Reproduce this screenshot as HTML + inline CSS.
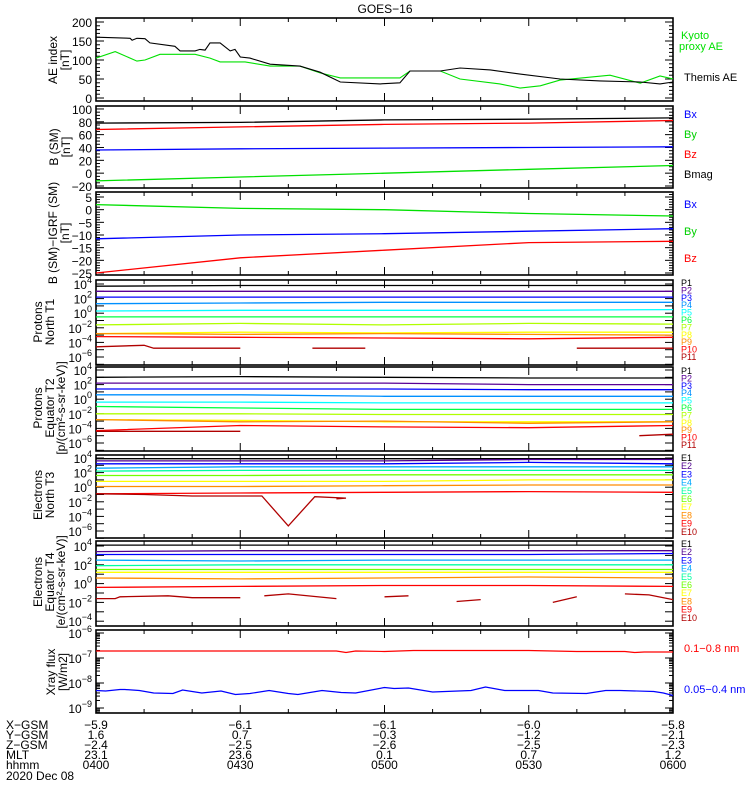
<!DOCTYPE html>
<html><head><meta charset="utf-8"><style>
body{margin:0;background:#fff;width:750px;height:800px;overflow:hidden}
svg{display:block;font-family:"Liberation Sans",sans-serif}
</style></head><body>
<svg id="chart" width="750" height="800" viewBox="0 0 750 800" xmlns="http://www.w3.org/2000/svg"></svg>
<script>
// ---------- DATA ----------
const aeBlackT=[0,7.1,7.5,8.5,10.2,11.2,16.4,17.5,20.6,21.6,22.7,23.7,25.8,27.9,28.9,30,32,36.2,42.4,46.6,50.8,59.1,63.2,65.3,71.6,75.7,82,88.2,96.5,104.8,113.2,117.3,120];
const aeBlackV=[160,157,152,157,156,145,136,124,124,128,126,145,145,124,128,108,105,89,84,68,42,37,40,71,71,79,74,63,50,45,42,37,42];
const aeGreenT=[0,4,8.5,10.2,13.3,20.6,23.7,25.8,31,36.2,42.4,46.6,50.8,63.2,65.3,71.6,75.7,84,88.2,92.4,96.5,106.9,113.2,117.3,120];
const aeGreenV=[105,122,97,100,115,115,105,95,95,84,84,66,53,53,71,71,50,37,26,32,47,60,39,58,50];
const stepT=[0,30,60,90,120];
const bBx=[36,38,39,40,41];
const bBy=[-12,-6,0,6,12];
const bBz=[68,72,76,78,82];
const bBmag=[78,79,83,84,86];
const dBx=[-11.5,-10,-9.5,-8.5,-7.5];
const dBy=[2,0.5,0,-1.5,-2.5];
const dBz=[-25,-19,-16,-13,-12.5];
const p1=[[3.7,3.8,3.8,3.8,3.8],[3.0,3.0,3.0,3.0,3.0],[2.2,2.2,2.2,2.2,2.2],[1.3,1.4,1.5,1.5,1.5],[0.3,0.4,0.4,0.4,0.5],[-0.5,-0.5,-0.5,-0.5,-0.5],[-1.6,-1.4,-1.6,-1.4,-1.5],[-2.8,-2.6,-2.7,-2.6,-2.6],[-2.8,-2.9,-2.8,-2.9,-3.0],[-3.2,-3.3,-3.4,-3.5,-3.3]];
const p1Dark=[[[0,-4.6],[10,-4.4],[12,-4.8],[30,-4.8]],[[45,-4.8],[56,-4.8]],[[100,-4.8],[120,-4.8]]];
const p2=[[3.0,3.1,3.0,2.9,2.9],[2.2,2.2,2.2,2.0,2.0],[1.4,1.4,1.4,1.3,1.3],[0.6,0.6,0.4,0.4,0.4],[-0.4,-0.4,-0.5,-0.5,-0.5],[-1.0,-1.2,-1.4,-1.4,-1.4],[-2.0,-2.0,-2.1,-2.1,-2.1],[-2.8,-2.9,-3.1,-3.1,-3.1],[-2.8,-3.1,-3.0,-3.3,-3.1],[-4.3,-3.6,-3.8,-3.9,-3.6]];
const p2Dark=[[[0,-4.4],[30,-4.4]],[[113,-5.0],[120,-4.8]]];
const e3=[[3.9,3.9,3.9,3.9,3.9],[3.6,3.6,3.6,3.8,3.8],[3.2,3.2,3.2,3.4,3.2],[2.6,2.8,2.8,2.8,2.8],[2.2,2.3,2.3,2.3,2.3],[1.6,1.6,1.7,1.7,1.7],[0.8,0.8,0.8,1.0,1.0],[0.1,0.1,0.2,0.3,0.3],[-0.9,-0.8,-0.7,-0.6,-0.7]];
const e3Dark=[[[0,-0.9],[10,-1.0],[20,-1.2],[34.5,-1.2],[40,-5.3],[45.5,-1.3],[52,-1.5],[50,-1.6]]];
const e4=[[4.1,4.1,4.1,4.1,4.1],[3.4,3.5,3.5,3.5,3.5],[3.1,3.1,3.1,3.1,3.2],[2.5,2.4,2.5,2.5,2.5],[1.9,2.0,2.0,2.0,2.0],[1.5,1.5,1.5,1.5,1.5],[1.2,1.2,1.2,1.2,1.2],[0.6,0.5,0.6,0.7,0.6],[-0.4,-0.3,-0.2,-0.2,-0.3]];
const e4Dark=[[[0,-1.6],[4,-1.6],[5,-1.4],[15,-1.3],[20,-1.5],[30,-1.5]],[[35,-1.3],[40,-1.1],[50,-1.6]],[[60,-1.4],[65,-1.3]],[[75,-1.9],[80,-1.7]],[[95,-2.0],[100,-1.4]],[[110,-1.1],[115,-1.2],[120,-1.7]]];
const xRed=[[0,-6.72],[50,-6.72],[52,-6.78],[54,-6.72],[60,-6.74],[66,-6.7],[90,-6.7],[100,-6.74],[110,-6.74],[112,-6.78],[114,-6.76],[120,-6.76]];
const xBlueT=[0,2,5,6,9,12,16,18,22,26,29,32,36,40,42,47,51,54,60,62,65,70,78,81,85,92,95,102,106,109,116,118,120];
const xBlueV=[-8.3,-8.32,-8.26,-8.26,-8.3,-8.4,-8.42,-8.28,-8.4,-8.32,-8.46,-8.42,-8.3,-8.42,-8.46,-8.3,-8.38,-8.4,-8.18,-8.22,-8.2,-8.36,-8.3,-8.16,-8.3,-8.3,-8.4,-8.42,-8.3,-8.3,-8.34,-8.4,-8.5];
const protonLabels=["P1","P2","P3","P4","P5","P6","P7","P8","P9","P10","P11"];
const elecLabels=["E1","E2","E3","E4","E5","E6","E7","E8","E9","E10"];
const pColors=["#000","#5a0096","#0000ff","#0090ff","#00ffff","#00ff40","#b0ff00","#ffff00","#ff8c00","#ff0000","#b00000"];
const eColors=["#000","#500090","#0000ff","#00a8ff","#00ffa0","#70ff00","#ffff00","#ff8c00","#ff0000","#b00000"];
const timeTicks=["0400","0430","0500","0530","0600"];
const xgsm=["-5.9","-6.1","-6.1","-6.0","-5.8"];
const ygsm=["1.6","0.7","-0.3","-1.2","-2.1"];
const zgsm=["-2.4","-2.5","-2.6","-2.5","-2.3"];
const mlt=["23.1","23.6","0.1","0.7","1.2"];

// ---------- HELPERS ----------
const NS="http://www.w3.org/2000/svg";
const svg=document.getElementById('chart');
const X0=96,X1=673;
function xS(t){return X0+t*(X1-X0)/120;}
function mk(tag,a,parent){const e=document.createElementNS(NS,tag);for(const k in a)e.setAttribute(k,a[k]);(parent||svg).appendChild(e);return e;}
function txt(x,y,s,opt,parent){const e=mk('text',Object.assign({x:x,y:y,'font-size':12,fill:'#000'},opt||{}),parent);e.textContent=s;return e;}
const M=s=>s.replace(/-/g,'\u2212');
function panelBox(top,bot,name){
  const r=mk('rect',{x:X0,y:top,width:X1-X0,height:bot-top,fill:'none',stroke:'#000','stroke-width':1.6});
  
  
  const cp=mk('clipPath',{id:'cp-'+name});
  mk('rect',{x:X0,y:top,width:X1-X0,height:bot-top},cp);
  for(let m=0;m<=120;m+=10){
    const len=(m%30===0)?8:4;const xx=xS(m);
    mk('line',{x1:xx,y1:bot,x2:xx,y2:bot-len,stroke:'#000'});
    mk('line',{x1:xx,y1:top,x2:xx,y2:top+len,stroke:'#000'});
  }
}
function ytick(y,len){mk('line',{x1:X0,y1:y,x2:X0+len,y2:y,stroke:'#000'});mk('line',{x1:X1,y1:y,x2:X1-len,y2:y,stroke:'#000'});}
function line(pts,color,name,clip,w){
  const p=mk('polyline',{points:pts.map(q=>q[0].toFixed(1)+','+q[1].toFixed(1)).join(' '),fill:'none',stroke:color,'stroke-width':w||1.3,'clip-path':'url(#cp-'+clip+')'});
  
  
  return p;
}
function stepPts(vals,yf){return vals.map((v,i)=>[xS(stepT[i]),yf(v)]);}
function ytitle(lines,xs,cy,name){
  lines.forEach((s,i)=>{const t=txt(0,0,s,{transform:'translate('+xs[i]+','+cy+') rotate(-90)','text-anchor':'middle'});});
}
function logLabel(y,exp){
  const t=txt(92,y+5,'10',{'text-anchor':'end','font-size':12});
  const s=mk('tspan',{dy:-6,'font-size':9},t);s.textContent=M(String(exp));
  
  
}
function logPanel(top,bot,y4,ppd,minE,maxE,name){
  panelBox(top,bot,name);
  const yf=L=>y4+(4-L)*ppd;
  for(let e=minE;e<=maxE;e++){ytick(yf(e),8);if(e%2===0)logLabel(yf(e),e);}
  return yf;
}

// ---------- TITLE ----------
const ttl=txt(385,13,'GOES'+'\u2212'+'16',{'text-anchor':'middle','font-size':12});



// ---------- PANEL 1: AE ----------
panelBox(18,101,'ae-panel');
const yAE=v=>98-v*0.38;
for(let v=0;v<=200;v+=10){ytick(yAE(v),v%50===0?8:4);}
[0,50,100,150,200].forEach(v=>{const t=txt(92,yAE(v)+5,String(v),{'text-anchor':'end'});});
line(aeGreenT.map((t,i)=>[xS(t),yAE(aeGreenV[i])]),'#00e000','kyoto-proxy-ae-line','ae-panel',1.1);
line(aeBlackT.map((t,i)=>[xS(t),yAE(aeBlackV[i])]),'#000','themis-ae-line','ae-panel',1.1);
ytitle(['AE index','[nT]'],[57,69],60,'ae-y-title');
let l=txt(681,39,'Kyoto',{fill:'#00e000','font-size':11});
l=txt(679,50,'proxy AE',{fill:'#00e000','font-size':11});
l=txt(684,81,'Themis AE',{fill:'#000','font-size':11});

// ---------- PANEL 2: B SM ----------
panelBox(106,188,'b-sm-panel');
const yB=v=>186-(v+20)*0.642;
for(let v=-20;v<=100;v+=5){ytick(yB(v),v%20===0?8:4);}
for(let v=-20;v<=100;v+=20){const t=txt(92,yB(v)+5,M(String(v)),{'text-anchor':'end'});}
line(stepPts(bBmag,yB),'#000','bmag-line','b-sm-panel');
line(stepPts(bBz,yB),'#ff0000','bz-line','b-sm-panel');
line(stepPts(bBx,yB),'#0000ff','bx-line','b-sm-panel');
line(stepPts(bBy,yB),'#00e000','by-line','b-sm-panel');
ytitle(['B (SM)','[nT]'],[58,70],147,'b-sm-y-title');
[['Bx','#0000ff',118],['By','#00d000',138],['Bz','#ff0000',158],['Bmag','#000',178]].forEach(a=>{const t=txt(684,a[2],a[0],{fill:a[1],'font-size':11});});

// ---------- PANEL 3: B - IGRF ----------
panelBox(192,275,'b-igrf-panel');
const yD=v=>197+(5-v)*2.533;
for(let v=-27;v<=7;v++){const y=yD(v);if(y>192&&y<275)ytick(y,v%5===0?8:4);}
for(let v=-25;v<=5;v+=5){const t=txt(92,yD(v)+5,M(String(v)),{'text-anchor':'end'});}
line(stepPts(dBy,yD),'#00e000','d-by-line','b-igrf-panel');
line(stepPts(dBx,yD),'#0000ff','d-bx-line','b-igrf-panel');
line(stepPts(dBz,yD),'#ff0000','d-bz-line','b-igrf-panel');
ytitle(['B (SM)\u2212IGRF (SM)','[nT]'],[57,69],233,'b-igrf-y-title');
[['Bx','#0000ff',208],['By','#00d000',235],['Bz','#ff0000',262]].forEach(a=>{const t=txt(684,a[2],a[0],{fill:a[1],'font-size':11});});

// ---------- LOG PANELS ----------
function drawChannels(arr,dark,colors,yf,clip,prefix){
  arr.forEach((vals,i)=>line(stepPts(vals,yf),colors[i],prefix+'-ch'+(i+1)+'-line',clip));
  dark.forEach((seg,j)=>line(seg.map(q=>[xS(q[0]),yf(q[1])]),colors[colors.length-1],prefix+'-last-ch-seg'+(j+1),clip));
}
function chanLabels(labels,colors,y0,dy,prefix){
  labels.forEach((s,i)=>{const t=txt(681,y0+i*dy,s,{fill:colors[i],'font-size':9});});
}
const yP1=logPanel(280,365,284,7.3,-7,4,'protons-t1-panel');
drawChannels(p1,p1Dark,pColors,yP1,'protons-t1-panel','protons-t1');
ytitle(['Protons','North T1'],[42,54],322,'protons-t1-y-title');
chanLabels(protonLabels,pColors,286,7.4,'protons-t1');

const yP2=logPanel(367,451,370,7.3,-7,4,'protons-t2-panel');
drawChannels(p2,p2Dark,pColors,yP2,'protons-t2-panel','protons-t2');
ytitle(['Protons','Equator T2','[p/(cm\u00b2-s-sr-keV)]'],[42,54,65],408,'protons-t2-y-title');
chanLabels(protonLabels,pColors,374,7.4,'protons-t2');

const yE3=logPanel(455,538,458,7.3,-7,4,'electrons-t3-panel');
drawChannels(e3,e3Dark,eColors,yE3,'electrons-t3-panel','electrons-t3');
ytitle(['Electrons','North T3'],[42,54],495,'electrons-t3-y-title');
chanLabels(elecLabels,eColors,461,8.2,'electrons-t3');

const yE4=logPanel(541,626,546,9.4,-4,4,'electrons-t4-panel');
drawChannels(e4,e4Dark,eColors,yE4,'electrons-t4-panel','electrons-t4');
ytitle(['Electrons','Equator T4','[e/(cm\u00b2-s-sr-keV)]'],[42,54,65],582,'electrons-t4-y-title');
chanLabels(elecLabels,eColors,547,8.2,'electrons-t4');

// ---------- XRAY ----------
panelBox(630,713,'xray-panel');
const yX=L=>633+(-6-L)*25;
for(let e=-10;e<=-6;e++){for(let k=1;k<=9;k++){const y=yX(e+Math.log10(k));if(y>=630&&y<=713)ytick(y,k===1?8:4);}}
[-6,-7,-8,-9].forEach(e=>logLabel(yX(e),e));
line(xRed.map(q=>[xS(q[0]),yX(q[1])]),'#ff0000','xray-long-line','xray-panel',1.2);
line(xBlueT.map((t,i)=>[xS(t),yX(xBlueV[i])]),'#0000ff','xray-short-line','xray-panel',1.2);
ytitle(['Xray flux','[W/m2]'],[55,67],672,'xray-y-title');
l=txt(684,652,'0.1\u22120.8 nm',{fill:'#ff0000','font-size':11});
l=txt(684,693,'0.05\u22120.4 nm',{fill:'#0000ff','font-size':11});

// ---------- X-AXIS ANNOTATION ----------
const rows=[['X-GSM',xgsm],['Y-GSM',ygsm],['Z-GSM',zgsm],['MLT',mlt],['hhmm',timeTicks]];
rows.forEach((r,i)=>{
  const y=729+i*10;
  const h=txt(6,y,M(r[0]),{'font-size':12});
  r[1].forEach((v,j)=>{const t=txt(xS(j*30),y,M(v),{'text-anchor':'middle','font-size':12});});
});
const dt=txt(6,780,'2020 Dec 08',{'font-size':12});


</script>
</body></html>
